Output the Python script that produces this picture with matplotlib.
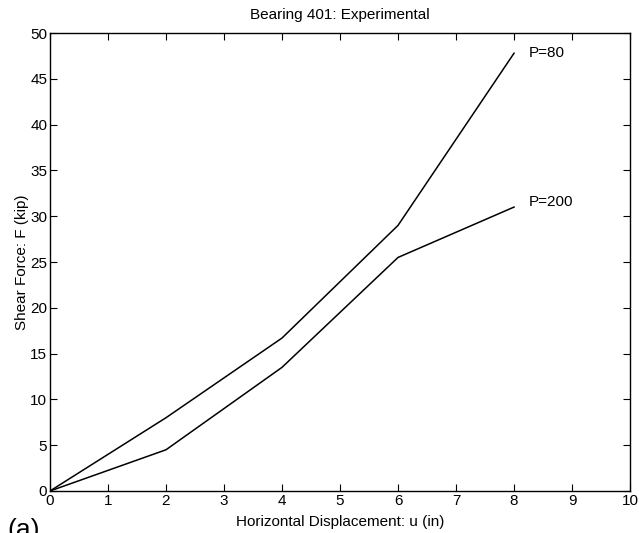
import matplotlib
matplotlib.use("Agg")
import matplotlib.pyplot as plt

# Данi
u = [0, 2, 4, 6, 8]
f_p80 = [0, 8.0, 16.7, 29.0, 47.8]
f_p200 = [0, 4.5, 13.5, 25.5, 31.0]

plt.rcParams['font.family'] = ['Liberation Sans', 'DejaVu Sans']
plt.rcParams['font.size'] = 11

fig = plt.figure(figsize=(6.39, 5.33), dpi=100)
ax = fig.add_axes([0.0782, 0.0788, 0.9078, 0.8592])

ax.plot(u, f_p80, color='black', lw=1.1)
ax.plot(u, f_p200, color='black', lw=1.1)
ax.text(8.25, f_p80[-1], 'P=80', va='center', ha='left', fontsize=11)
ax.text(8.25, f_p200[-1] + 0.5, 'P=200', va='center', ha='left', fontsize=11)

ax.set_xlim(0, 10)
ax.set_ylim(0, 50)
ax.set_xticks(range(0, 11))
ax.set_yticks(range(0, 51, 5))
ax.tick_params(direction='in', top=True, right=True, length=5, width=0.8,
               labelsize=11, pad=2)
for s in ax.spines.values():
    s.set_linewidth(1.0)

ax.set_title('Bearing 401: Experimental', fontsize=11, pad=10)
ax.set_xlabel('Horizontal Displacement: u (in)', fontsize=11, labelpad=-3)
ax.xaxis.set_label_coords(0.5, -0.052)
ax.set_ylabel('Shear Force: F (kip)', fontsize=11, labelpad=1)

fig.text(0.012, -0.016, '(a)', fontsize=19, ha='left', va='bottom')

fig.savefig('out.png', dpi=100)
